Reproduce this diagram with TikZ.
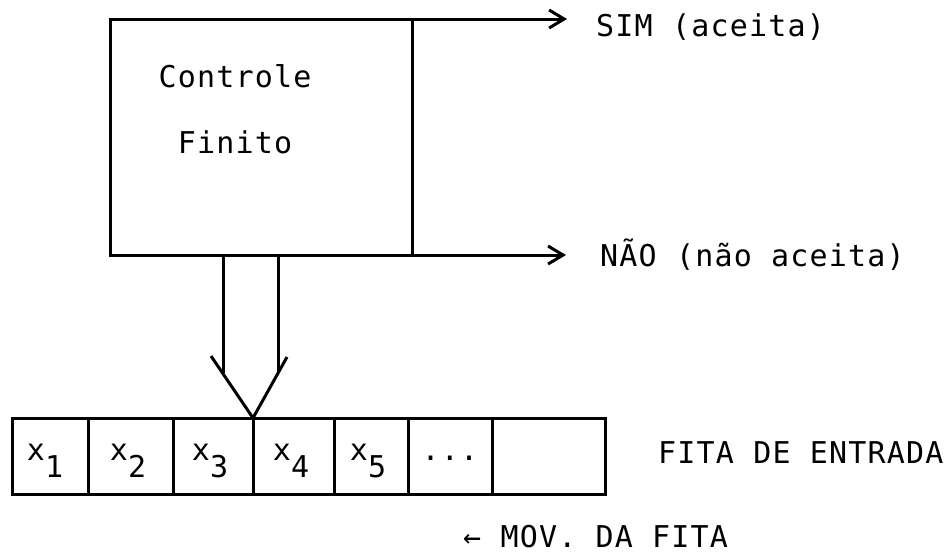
\documentclass[tikz,border=0pt]{standalone}
\usepackage{fontspec}
\newfontfamily\tw[LetterSpace=4]{DejaVu Sans Mono}
\usetikzlibrary{arrows.meta}
\begin{document}
\begin{tikzpicture}[x=1pt,y=-1pt,
  ln/.style={line width=3pt},
  boxst/.style={draw,ln,rectangle,inner sep=0pt,outer sep=0pt},
  cell/.style={boxst,minimum height=76pt},
  lbl/.style={inner sep=0pt,font=\tw\fontsize{30}{35}\selectfont},
  outarrow/.style={ln,-{Straight Barb[length=15pt,width=18pt]}}
]
\useasboundingbox (0,0) rectangle (949,555);
% finite control box
\node[boxst,minimum width=302pt,minimum height=236pt] (ctrl) at (261,137) {};
\node[lbl,anchor=base] (t1) at (235,87) {Controle};
\node[lbl,anchor=base] (t2) at (235,153) {Finito};
% outputs
\coordinate (simtip) at (567,19);
\coordinate (naotip) at (566,255);
\draw[outarrow] (ctrl.north east) -- (simtip);
\draw[outarrow] (ctrl.south east) -- (naotip);
\node[lbl,anchor=base west] (sim) at (596,36) {SIM (aceita)};
\node[lbl,anchor=base west] (nao) at (600,266) {NÃO (não aceita)};
% tape
\node[cell,minimum width=76pt] (c1) at (50,456) {};
\node[cell,minimum width=85pt] (c2) at (130.5,456) {};
\node[cell,minimum width=80pt] (c3) at (213,456) {};
\node[cell,minimum width=81pt] (c4) at (293.5,456) {};
\node[cell,minimum width=74pt] (c5) at (371,456) {};
\node[cell,minimum width=84pt] (c6) at (450,456) {};
\node[cell,minimum width=113pt] (c7) at (548.5,456) {};
\node[lbl,anchor=base] (x1) at (45,460) {x\raisebox{-17pt}{1}};
\node[lbl,anchor=base] (x2) at (128,460) {x\raisebox{-17pt}{2}};
\node[lbl,anchor=base] (x3) at (210,460) {x\raisebox{-17pt}{3}};
\node[lbl,anchor=base] (x4) at (291,460) {x\raisebox{-17pt}{4}};
\node[lbl,anchor=base] (x5) at (368,460) {x\raisebox{-17pt}{5}};
\node[lbl,anchor=base] (dots) at (450,460) {...};
\node[lbl,anchor=base west] (fita) at (658,463) {FITA DE ENTRADA};
\node[lbl,anchor=base west] (mov) at (463,547) {← MOV. DA FITA};
% read head (double arrow)
\coordinate (sl) at (223,255);
\coordinate (sr) at (278,255);
\coordinate (el) at (223,373);
\coordinate (er) at (278,373);
\coordinate (vl) at (211,356);
\coordinate (vr) at (287,357);
\draw[ln] (sl) -- (el);
\draw[ln] (sr) -- (er);
\draw[ln,line join=miter] (vl) -- (c4.north west) -- (vr);
\end{tikzpicture}
\end{document}
